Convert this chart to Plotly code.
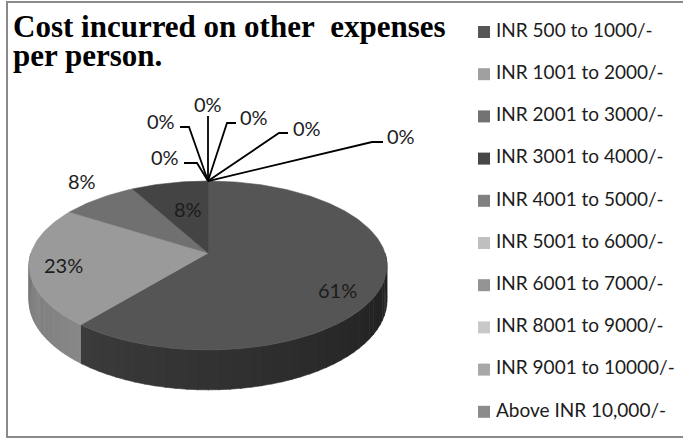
"""Cost incurred on other expenses per person - pie drawn with a 3D look
"""
import numpy as np
import plotly.graph_objects as go

##### Data #####
categories = [
    "INR 500 to 1000/-", "INR 1001 to 2000/-", "INR 2001 to 3000/-",
    "INR 3001 to 4000/-", "INR 4001 to 5000/-", "INR 5001 to 6000/-",
    "INR 6001 to 7000/-", "INR 8001 to 9000/-", "INR 9001 to 10000/-",
    "Above INR 10,000/-",
]
shares = [61, 23, 8, 8, 0, 0, 0, 0, 0, 0]
title_lines = ["Cost incurred on other\u00a0 expenses", "per person."]

##### Style #####
top_colors = ["#555555", "#9a9a9a", "#707070", "#444444", "#808080",
              "#bfbfbf", "#949494", "#c8c8c8", "#a8a8a8", "#8c8c8c"]
legend_colors = ["#565656", "#a0a0a0", "#727272", "#474747", "#808080",
                 "#bfbfbf", "#949494", "#c8c8c8", "#a8a8a8", "#8c8c8c"]
# side wall gradient (start angle colour, end angle colour)
side_colors = [((30, 30, 30), (60, 60, 60)), ((136, 136, 136), (118, 118, 118)),
               ((90, 90, 90), (90, 90, 90)), ((50, 50, 50), (50, 50, 50))] + \
              [((110, 110, 110), (110, 110, 110))] * 6

# pie geometry in screen pixels (perspective ellipse)
CX, CY = 208, 253
A, B, K = 177, 82.6, 0.148
DEPTH = 34

# label placement (pixels) for the non-zero slices
label_pos = {0: (337, 290), 1: (63, 265), 2: (82, 181), 3: (188, 209)}
# zero slices: leader elbow, leader end, label anchor, xanchor
zero_leaders = [
    ((197, 163), (184, 163), (181, 157), "right"),
    ((189, 127), (180, 127), (177, 121), "right"),
    ((208, 116), (208, 116), (208, 104), "center"),
    ((227, 123), (236, 123), (238, 117), "left"),
    ((279, 133), (288, 133), (291, 128), "left"),
    ((372, 142), (383, 142), (385, 136), "left"),
]

LEG_X, LEG_Y0, LEG_DY = 484, 32, 42.2


##### Helper functions #####
def proj(theta, drop=0.0):
    """theta in degrees, clockwise from 12 o'clock; returns screen x, y"""
    t = np.radians(theta)
    w = 1 + K * np.cos(t)
    return CX + A * np.sin(t) / w, CY - B * np.cos(t) / w + drop / w


def arc(a0, a1):
    n = max(2, int(np.ceil(abs(a1 - a0))) + 1)
    return np.linspace(a0, a1, n)


def poly_trace(xs, ys, color):
    return go.Scatter(x=xs, y=ys, mode="lines", fill="toself", fillcolor=color,
                      line=dict(color=color, width=0.6), hoverinfo="skip",
                      showlegend=False)


def main():
    total = float(sum(shares))
    ends = np.cumsum(shares) / total * 360.0
    starts = np.concatenate([[0.0], ends[:-1]])

    fig = go.Figure()

    # side walls (front half only), drawn in thin strips for a shading gradient
    for i, (s, e) in enumerate(zip(starts, ends)):
        lo, hi = max(s, 90.0), min(e, 270.0)
        if hi <= lo:
            continue
        c0, c1 = side_colors[i]
        edges = arc(lo, hi)
        step = max(1, len(edges) // 40)
        edges = list(edges[::step]) + ([hi] if edges[::step][-1] != hi else [])
        for j in range(len(edges) - 1):
            f = (edges[j] - lo) / (hi - lo)
            col = "rgb(%d,%d,%d)" % tuple(int(c0[k] + (c1[k] - c0[k]) * f) for k in range(3))
            th = arc(edges[j], edges[j + 1] + 0.3 if edges[j + 1] < hi else edges[j + 1])
            tx, ty = proj(th)
            bx, by = proj(th[::-1], DEPTH)
            fig.add_trace(poly_trace(np.concatenate([tx, bx]), np.concatenate([ty, by]), col))

    # top faces
    for i, (s, e) in enumerate(zip(starts, ends)):
        if e - s <= 0:
            continue
        x, y = proj(arc(s, e))
        fig.add_trace(poly_trace(np.concatenate([[CX], x, [CX]]),
                                 np.concatenate([[CY], y, [CY]]), top_colors[i]))

    annotations = []
    lab_font = dict(family="Lato", size=20, color="#1c1c1c")
    for i, v in enumerate(shares):
        if v > 0:
            lx, ly = label_pos[i]
            annotations.append(dict(x=lx, y=ly, text=f"{v}%", showarrow=False,
                                    xanchor="center", yanchor="middle", font=lab_font))

    # leader lines for zero slices, starting at the slice edge (top of pie)
    zeros = [i for i, v in enumerate(shares) if v == 0]
    for i, (elbow, end, lab, anchor) in zip(zeros, zero_leaders):
        px, py = proj(starts[i])
        fig.add_trace(go.Scatter(x=[px, elbow[0], end[0]], y=[py, elbow[1], end[1]],
                                 mode="lines", line=dict(color="black", width=1.8),
                                 hoverinfo="skip", showlegend=False))
        annotations.append(dict(x=lab[0], y=lab[1], text=f"{shares[i]}%", showarrow=False,
                                xanchor=anchor, yanchor="middle", font=lab_font))

    # legend
    leg_y = [LEG_Y0 + LEG_DY * i for i in range(len(categories))]
    fig.add_trace(go.Scatter(x=[LEG_X] * len(categories), y=leg_y, mode="markers",
                             marker=dict(symbol="square", size=12, color=legend_colors,
                                         line=dict(width=0)),
                             hoverinfo="skip", showlegend=False))
    fig.add_trace(go.Scatter(x=[LEG_X + 12] * len(categories), y=leg_y, mode="text",
                             text=categories, textposition="middle right",
                             textfont=dict(family="Lato", size=19, color="#1c1c1c"),
                             hoverinfo="skip", showlegend=False))

    # title
    tfont = dict(family="Liberation Serif", size=31, color="black", weight="bold")
    annotations.append(dict(x=11, y=26, text=title_lines[0], showarrow=False,
                            xanchor="left", yanchor="middle", font=tfont))
    annotations.append(dict(x=11, y=55, text=title_lines[1], showarrow=False,
                            xanchor="left", yanchor="middle", font=tfont))

    fig.update_layout(
        width=683, height=438,
        margin=dict(l=0, r=0, t=0, b=0),
        paper_bgcolor="white", plot_bgcolor="white",
        xaxis=dict(range=[0, 683], visible=False, fixedrange=True),
        yaxis=dict(range=[438, 0], visible=False, fixedrange=True),
        annotations=annotations,
        shapes=[dict(type="rect", xref="x", yref="y", x0=7, x1=700, y0=2, y1=437,
                     line=dict(color="#8a8a8a", width=2), layer="above")],
        showlegend=False,
    )

    fig.write_html("out.html", config={"displayModeBar": False},
                   post_script="document.body.style.margin='0px';")


if __name__ == "__main__":
    main()
